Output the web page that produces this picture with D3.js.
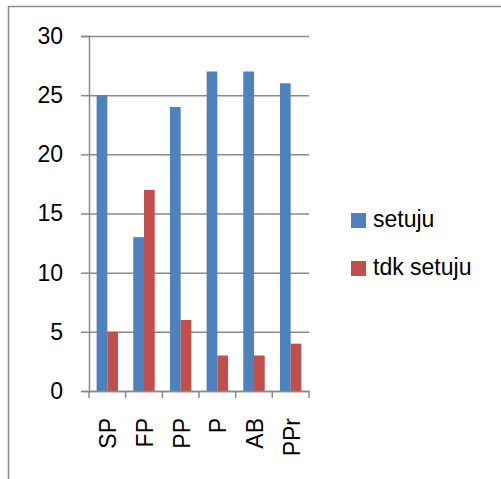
<!DOCTYPE html>
<html>
<head>
<meta charset="utf-8">
<script src="https://cdn.jsdelivr.net/npm/d3@7"></script>
<style>
  html, body { margin: 0; padding: 0; background: #ffffff; }
  svg { display: block; }
  text { font-family: "Liberation Sans", Arial, sans-serif; fill: #000; }
</style>
</head>
<body>
<svg id="chart" width="501" height="479"></svg>
<script>
const categories = ["SP", "FP", "PP", "P", "AB", "PPr"];
const seriesNames = ["setuju", "tdk setuju"];
const setujuValues = [25, 13, 24, 27, 27, 26];
const tdkSetujuValues = [5, 17, 6, 3, 3, 4];
const yTicks = [0, 5, 10, 15, 20, 25, 30];
const colors = ["#4f81bd", "#c0504d"];

(function () {
const seriesValues = [setujuValues, tdkSetujuValues];
const svg = d3.select("#chart");

// outer chart border (clipped by window on right/bottom)
svg.append("rect")
  .attr("x", 8.5).attr("y", 6.5)
  .attr("width", 700).attr("height", 700)
  .attr("fill", "none").attr("stroke", "#8a8a8a").attr("stroke-width", 1.5);

const pLeft = 89, pRight = 309, pTop = 36, pBottom = 391;

const x0 = d3.scaleBand().domain(categories).range([pLeft, pRight]).padding(0);
const x1 = d3.scaleBand().domain(seriesNames).range([0, x0.bandwidth()])
  .paddingInner(0).paddingOuter(0.71);
const y = d3.scaleLinear().domain([0, 30]).range([pBottom, pTop]);

// gridlines + y axis
const yAxis = d3.axisLeft(y).tickValues(yTicks).tickSize(8).tickPadding(18);
const gy = svg.append("g").attr("transform", `translate(${pLeft},0)`).call(yAxis);
gy.select(".domain").attr("stroke", "#8a8a8a").attr("stroke-width", 1.5);
gy.selectAll(".tick line").attr("stroke", "#8a8a8a").attr("stroke-width", 1.5);
gy.selectAll(".tick").append("line")
  .attr("x1", 0).attr("x2", pRight - pLeft)
  .attr("stroke", "#8a8a8a").attr("stroke-width", 1.5);
gy.selectAll(".tick text").attr("font-size", "23px")
  .attr("font-family", "Liberation Sans, Arial, sans-serif").attr("fill", "#000");

// bars
const groups = svg.append("g").selectAll("g")
  .data(categories).join("g")
  .attr("transform", d => `translate(${x0(d)},0)`);
groups.selectAll("rect")
  .data((d, i) => seriesNames.map((s, k) => ({ s, v: seriesValues[k][i], k })))
  .join("rect")
  .attr("x", d => x1(d.s))
  .attr("y", d => y(d.v))
  .attr("width", x1.bandwidth())
  .attr("height", d => y(0) - y(d.v))
  .attr("fill", d => colors[d.k]);

// x axis
const xAxis = d3.axisBottom(x0).tickSize(0).tickFormat("");
const gx = svg.append("g").attr("transform", `translate(0,${pBottom})`).call(xAxis);
gx.select(".domain").attr("stroke", "#8a8a8a").attr("stroke-width", 1.5);
const bounds = categories.map(c => x0(c)).concat([pRight]);
gx.selectAll(".sep").data(bounds).join("line")
  .attr("class", "sep")
  .attr("x1", d => d).attr("x2", d => d)
  .attr("y1", 0).attr("y2", 7)
  .attr("stroke", "#8a8a8a").attr("stroke-width", 1.5);

// x labels rotated
svg.append("g").selectAll("text")
  .data(categories).join("text")
  .attr("transform", d => `translate(${x0(d) + x0.bandwidth() / 2 + 1},418) rotate(-90)`)
  .attr("text-anchor", "end")
  .attr("dominant-baseline", "central")
  .attr("font-size", "23px")
  .text(d => d);

// legend
const legend = svg.append("g").selectAll("g")
  .data(seriesNames).join("g")
  .attr("transform", (d, i) => `translate(351,${213 + i * 48})`);
legend.append("rect")
  .attr("width", 15).attr("height", 15)
  .attr("fill", (d, i) => colors[i]);
legend.append("text")
  .attr("x", 22).attr("y", 14)
  .attr("font-size", "23px")
  .text(d => d);
})();
</script>
</body>
</html>
